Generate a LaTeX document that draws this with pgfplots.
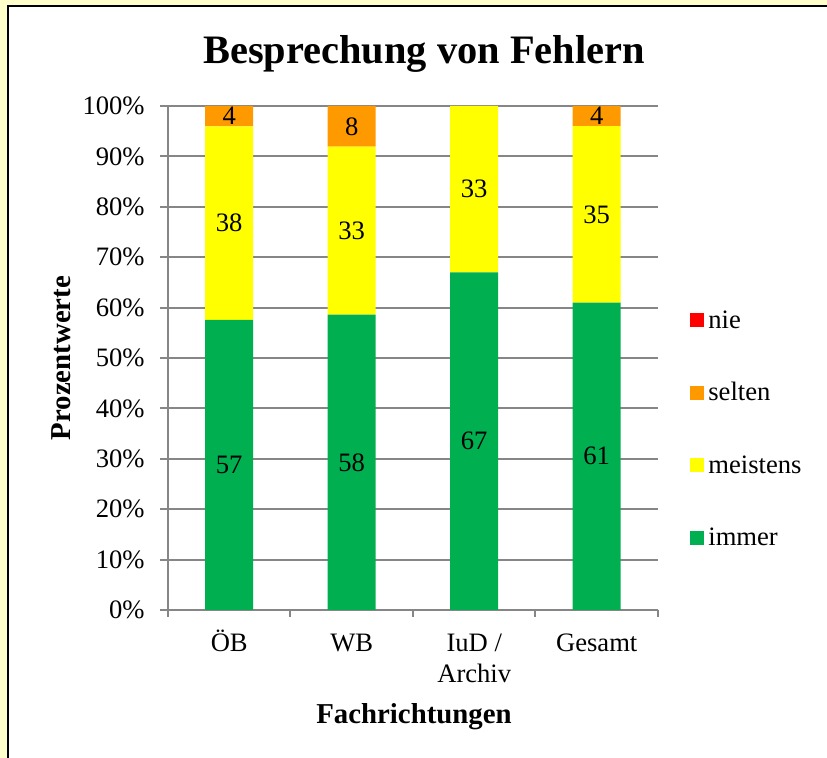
\documentclass[border=0pt]{standalone}
\usepackage{fontspec}
\setmainfont{Liberation Serif}
\usepackage{pgfplots}
\pgfplotsset{compat=1.18}
\definecolor{immer}{HTML}{00B050}
\definecolor{meistens}{HTML}{FFFF00}
\definecolor{selten}{HTML}{FF9900}
\definecolor{nie}{HTML}{FF0000}
\definecolor{bgyel}{HTML}{FFFFCC}
\definecolor{gridg}{HTML}{868686}
\newcommand\tl{\fontsize{13.3}{15.3}\selectfont}

% no label where the value is 0
\pgfplotsset{
  hide zero/.code={%
    \pgfkeys{/pgf/fpu=true}%
    \pgfmathparse{\pgfplotspointmeta}%
    \pgfmathfloatifflags{\pgfmathresult}{0}{\pgfkeys{/tikz/coordinate}}{}%
    \pgfkeys{/pgf/fpu=false}%
  },
  sq/.style={legend image code/.code={\fill[##1] (0pt,-3pt) rectangle (7pt,4pt);}},
}

\begin{document}
\begin{tikzpicture}
\useasboundingbox (0,0) rectangle (413.5pt,379pt);
\fill[bgyel] (0,0) rectangle (413.5pt,379pt);
\fill[white] (4pt,0) rectangle (413.5pt,376pt);
\draw[line width=1.2pt] (4pt,0) -- (4pt,376pt) -- (413.5pt,376pt);
\begin{axis}[
  at={(84pt,74pt)}, anchor=south west,
  scale only axis, width=245pt, height=252pt,
  ybar stacked, bar width=24pt,
  xmin=-0.5, xmax=3.5, ymin=0, ymax=100,
  xtick={0,1,2,3},
  xticklabels={ÖB,WB,{IuD /\\Archiv},Gesamt},
  minor xtick={-0.5,0.5,1.5,2.5,3.5},
  ytick={0,10,...,100},
  yticklabel={\pgfmathprintnumber{\tick}\%},
  /pgf/number format/assume math mode=true,
  axis lines*=left,
  axis line style={-, draw=gridg, line width=1pt},
  ymajorgrids, grid style={draw=gridg, line width=1pt},
  tick align=outside,
  major tick length=4pt, minor tick length=3.5pt,
  tick style={draw=gridg, line width=1pt},
  major x tick style={draw=none},
  ticklabel style={font=\tl},
  typeset ticklabels with strut,
  xticklabel style={align=center, inner sep=0pt, yshift=-6pt},
  yticklabel style={inner sep=0pt, xshift=-7.5pt},
  point meta=explicit,
  nodes near coords,
  every node near coord/.append style={font=\tl, anchor=center, /pgfplots/hide zero},
  reverse legend,
  legend cell align=left,
  legend style={at={(1.0653,0.599)}, anchor=north west, draw=none, fill=none,
    inner sep=0pt, row sep=23.2pt, column sep=2pt,
    nodes={inner sep=0pt, text height=10pt, text depth=3pt, font=\tl}},
]
\addplot[fill=immer, draw=none, sq] coordinates {(0,57.576) [57] (1,58.586) [58] (2,67) [67] (3,61) [61]};
\addplot[fill=meistens, draw=none, sq] coordinates {(0,38.384) [38] (1,33.333) [33] (2,33) [33] (3,35) [35]};
\addplot[fill=selten, draw=none, sq] coordinates {(0,4.040) [4] (1,8.081) [8] (2,0) [0] (3,4) [4]};
\addplot[fill=nie, draw=none, sq] coordinates {(0,0) [0] (1,0) [0] (2,0) [0] (3,0) [0]};
\legend{immer,meistens,selten,nie}
\end{axis}
\node[anchor=base, font=\fontsize{20.2}{24}\selectfont\bfseries] at (212pt,347pt) {Besprechung von Fehlern};
\node[anchor=base, font=\fontsize{14.4}{17}\selectfont\bfseries] at (207pt,17pt) {Fachrichtungen};
\node[anchor=base, rotate=90, font=\fontsize{14.4}{17}\selectfont\bfseries] at (35pt,200pt) {Prozentwerte};
\end{tikzpicture}
\end{document}
